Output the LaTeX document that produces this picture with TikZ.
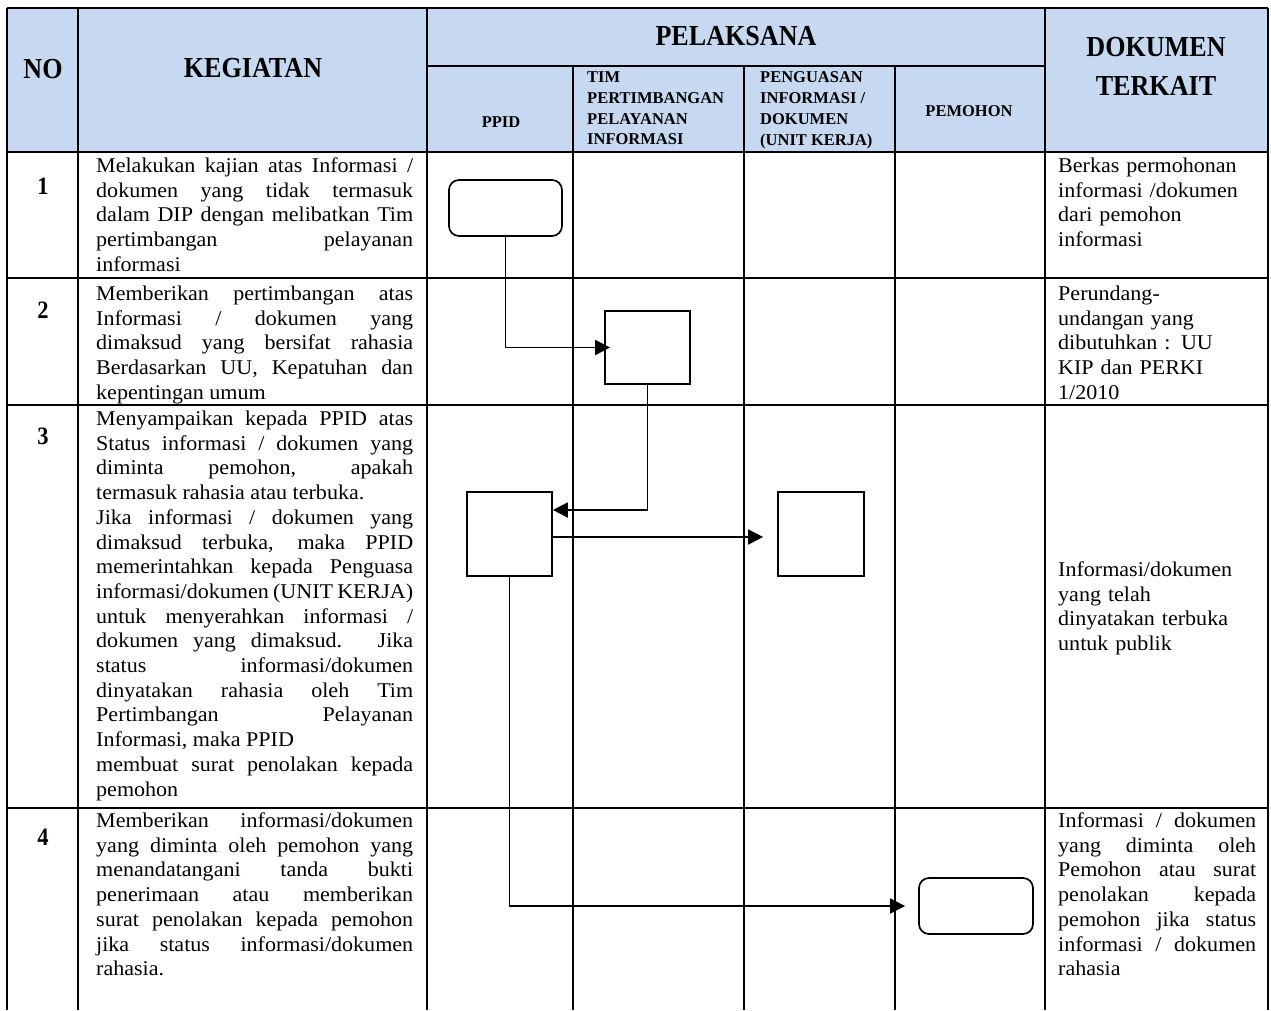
\documentclass[tikz,border=0pt]{standalone}
\usepackage{fontspec}
\setmainfont{Liberation Serif}[FakeStretch=1.05]
\newfontfamily\headfont{Liberation Serif}[FakeStretch=0.9]
\newfontfamily\subfont{Liberation Serif}
\usetikzlibrary{arrows.meta,positioning,calc}
\usepackage{xcolor}
\definecolor{HeadBlue}{HTML}{C6D9F1}
\definecolor{Ink}{HTML}{000000}
\newcommand{\RowNo}[3]{%
  \node[font=\headfont\bfseries\fontsize{25}{28}\selectfont,inner sep=0pt] (#1) at (43,#2) {#3};%
}
\newcommand{\Kegiatan}[3]{%
  \node[kegtext] (#1) at (96,#2) {\tolerance=10000 \hyphenpenalty=10000 #3};%
}
\newcommand{\Dokumen}[4]{%
  \node[doktext,align=#3] (#1) at (1058,#2) {\tolerance=10000 \hyphenpenalty=10000 #4};%
}

\begin{document}
\begin{tikzpicture}[x=1pt,y=-1pt,
  grid/.style={Ink,line width=1.4pt},
  kegtext/.style={anchor=base west,inner sep=0pt,text width=317pt,align=justify,font=\fontsize{21}{24.7}\selectfont},
  doktext/.style={anchor=base west,inner sep=0pt,text width=198pt,font=\fontsize{21}{24.7}\selectfont},
  bighead/.style={font=\headfont\bfseries\fontsize{29}{39}\selectfont,inner sep=0pt},
  subhead/.style={font=\subfont\bfseries\fontsize{16.5}{20.8}\selectfont,inner sep=0pt},
  stepbox/.style={draw=Ink,line width=1.7pt,inner sep=0pt},
  flow/.style={draw=Ink,line width=1.7pt,-{Triangle[length=15pt,width=15pt]}}]
\useasboundingbox (0,0) rectangle (1271,1010);
\fill[HeadBlue] (7,8) rectangle (1268,152);
% table
\draw[grid] (7,8) -- (1268,8);
\foreach \x in {7,78,427,1045,1268} {
  \draw[grid] (\x,8) -- (\x,1010);
}
\foreach \x in {573,744,895} {
  \draw[grid] (\x,66) -- (\x,1010);
}
\draw[grid] (427,66) -- (1045,66);
\foreach \y in {152,278,405,808} {
  \draw[grid] (7,\y) -- (1268,\y);
}
% header
\node[bighead] (hNo) at (43,69) {NO};
\node[bighead] (hKeg) at (253,68) {KEGIATAN};
\node[bighead] (hPel) at (736,36) {PELAKSANA};
\node[bighead,align=center] (hDok) at (1156,66.5) {DOKUMEN\\TERKAIT};
\node[subhead] (hPpid) at (501,122) {PPID};
\node[subhead,anchor=north west,align=left] (hTim) at (587,71.5) {TIM\\PERTIMBANGAN\\PELAYANAN\\INFORMASI};
\node[subhead,anchor=north west,align=left] (hUnit) at (760,71.5) {PENGUASAN\\INFORMASI /\\DOKUMEN\\(UNIT KERJA)};
\node[subhead] (hPem) at (969,111) {PEMOHON};
% rows
\RowNo{n1}{186}{1}
\RowNo{n2}{310}{2}
\RowNo{n3}{436}{3}
\RowNo{n4}{837}{4}
\Kegiatan{k1}{172.5}{Melakukan kajian atas Informasi /\linebreak
dokumen yang tidak termasuk\linebreak
dalam DIP dengan melibatkan Tim\linebreak
pertimbangan pelayanan\linebreak
informasi}
\Kegiatan{k2}{300.5}{Memberikan pertimbangan atas\linebreak
Informasi / dokumen yang\linebreak
dimaksud yang bersifat rahasia\linebreak
Berdasarkan UU, Kepatuhan dan\linebreak
kepentingan umum}
\Kegiatan{k3}{425.5}{Menyampaikan kepada PPID atas\linebreak
Status informasi / dokumen yang\linebreak
diminta pemohon, apakah\linebreak
termasuk rahasia atau terbuka.\\
Jika informasi / dokumen yang\linebreak
dimaksud terbuka, maka PPID\linebreak
memerintahkan kepada Penguasa\linebreak
informasi/dokumen (UNIT KERJA)\linebreak
untuk menyerahkan informasi /\linebreak
dokumen yang dimaksud. Jika\linebreak
status informasi/dokumen\linebreak
dinyatakan rahasia oleh Tim\linebreak
Pertimbangan Pelayanan\linebreak
Informasi, maka PPID\\
membuat surat penolakan kepada\linebreak
pemohon}
\Kegiatan{k4}{827.5}{Memberikan informasi/dokumen\linebreak
yang diminta oleh pemohon yang\linebreak
menandatangani tanda bukti\linebreak
penerimaan atau memberikan\linebreak
surat penolakan kepada pemohon\linebreak
jika status informasi/dokumen\linebreak
rahasia.}
\Dokumen{d1}{172.5}{left}{Berkas permohonan\\informasi /dokumen\\dari pemohon\\informasi}
\Dokumen{d2}{300.5}{left}{Perundang-\\undangan yang\\dibutuhkan : UU\\KIP dan PERKI\\1/2010}
\Dokumen{d3}{576.5}{left}{Informasi/dokumen\\yang telah\\dinyatakan terbuka\\untuk publik}
\Dokumen{d4}{827.5}{justify}{Informasi / dokumen\linebreak
yang diminta oleh\linebreak
Pemohon atau surat\linebreak
penolakan kepada\linebreak
pemohon jika status\linebreak
informasi / dokumen\linebreak
rahasia}
% flow
\node[stepbox,rounded corners=10pt,minimum width=113pt,minimum height=56pt] (mulai) at (505.5,208) {};
\node[stepbox,minimum width=85pt,minimum height=73pt] (tim) at (647.5,347.5) {};
\node[stepbox,minimum width=85pt,minimum height=84pt] (ppid) at (509.5,534) {};
\node[stepbox,minimum width=86pt,minimum height=84pt] (unit) at (821,534) {};
\node[stepbox,rounded corners=10pt,minimum width=114pt,minimum height=56pt] (selesai) at (976,906) {};
\draw[flow,shorten >=-6pt] (mulai.south) |- (tim.west);
\draw[flow] (tim.south) |- ([yshift=24pt]ppid.east);
\draw[flow,shorten >=14pt] ([yshift=-3pt]ppid.east) -- ([yshift=-3pt]unit.west);
\draw[flow,shorten >=13pt] (ppid.south) |- (selesai.west);
\end{tikzpicture}
\end{document}
